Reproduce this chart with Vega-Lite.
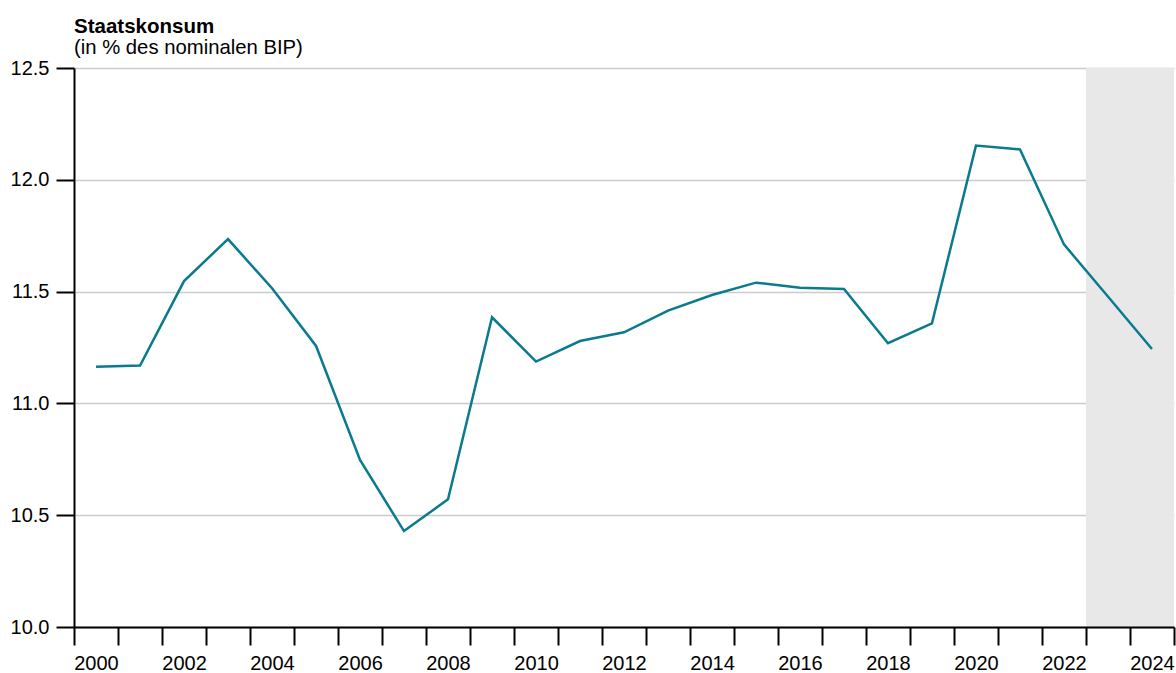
{
  "$schema": "https://vega.github.io/schema/vega-lite/v6.json",
  "width": 1100,
  "height": 559,
  "autosize": {"type": "none"},
  "padding": {"left": 74, "top": 68, "right": 2, "bottom": 46},
  "background": "white",
  "config": {
    "font": "Liberation Sans",
    "view": {"stroke": null}
  },
  "title": {
    "text": "Staatskonsum",
    "subtitle": "(in % des nominalen BIP)",
    "anchor": "start",
    "frame": "group",
    "font": "Liberation Sans",
    "subtitleFont": "Liberation Sans",
    "fontSize": 20.5,
    "fontWeight": "bold",
    "color": "black",
    "subtitleFontSize": 20.3,
    "subtitleColor": "black",
    "subtitlePadding": 0,
    "offset": 0
  },
  "datasets": {
    "series": [
      {"year": "2000", "value": 11.164},
      {"year": "2001", "value": 11.169},
      {"year": "2002", "value": 11.547},
      {"year": "2003", "value": 11.735},
      {"year": "2004", "value": 11.515},
      {"year": "2005", "value": 11.257},
      {"year": "2006", "value": 10.747},
      {"year": "2007", "value": 10.429},
      {"year": "2008", "value": 10.571},
      {"year": "2009", "value": 11.385},
      {"year": "2010", "value": 11.187},
      {"year": "2011", "value": 11.279},
      {"year": "2012", "value": 11.318},
      {"year": "2013", "value": 11.415},
      {"year": "2014", "value": 11.485},
      {"year": "2015", "value": 11.54},
      {"year": "2016", "value": 11.517},
      {"year": "2017", "value": 11.512},
      {"year": "2018", "value": 11.269},
      {"year": "2019", "value": 11.358},
      {"year": "2020", "value": 12.153},
      {"year": "2021", "value": 12.136},
      {"year": "2022", "value": 11.711},
      {"year": "2023", "value": 11.478},
      {"year": "2024", "value": 11.243}
    ],
    "forecast": [
      {"start": "2023", "end": "2025"}
    ]
  },
  "layer": [
    {
      "data": {"name": "forecast"},
      "mark": {"type": "rect", "color": "#e8e8e8"},
      "encoding": {
        "x": {"field": "start", "type": "temporal", "timeUnit": "utcyear"},
        "x2": {"field": "end", "timeUnit": "utcyear"}
      }
    },
    {
      "data": {"name": "series"},
      "mark": {"type": "line", "color": "#0a7a8f", "strokeWidth": 2.5},
      "encoding": {
        "x": {
          "field": "year",
          "type": "temporal",
          "timeUnit": "utcyear",
          "bandPosition": 0.5,
          "scale": {"domain": [946684800000, 1735689600000], "nice": false},
          "axis": {
            "title": null,
            "tickCount": {"interval": "year", "step": 1},
            "labelExpr": "utcyear(datum.value) % 2 == 0 && utcyear(datum.value) < 2025 ? utcFormat(datum.value, '%Y') : ''",
            "labelOverlap": false,
            "labelFlush": false,
            "labelOffset": 22,
            "labelFontSize": 20,
            "labelColor": "black",
            "labelPadding": 8,
            "tickSize": 18,
            "tickColor": "black",
            "tickWidth": 2,
            "domainColor": "black",
            "domainWidth": 2,
            "grid": false,
            "zindex": 2
          }
        },
        "y": {
          "field": "value",
          "type": "quantitative",
          "scale": {"domain": [10, 12.5], "nice": false, "zero": false},
          "axis": {
            "title": null,
            "values": [10, 10.5, 11, 11.5, 12, 12.5],
            "format": ".1f",
            "labelFontSize": 20,
            "labelColor": "black",
            "labelPadding": 7,
            "tickSize": 18,
            "tickColor": "black",
            "tickWidth": 2,
            "domainColor": "black",
            "domainWidth": 2,
            "grid": true,
            "gridColor": "#cccccc",
            "gridWidth": 1.5,
            "zindex": 0
          }
        }
      }
    }
  ]
}
